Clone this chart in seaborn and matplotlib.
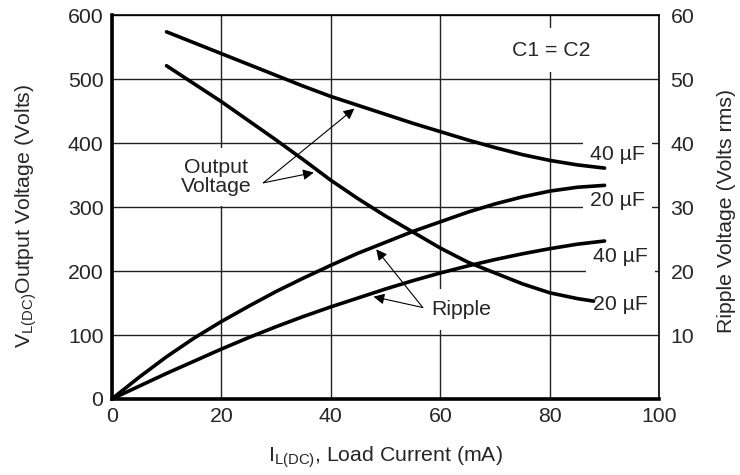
import pandas as pd
import matplotlib
matplotlib.use("Agg")
import matplotlib.pyplot as plt
import seaborn as sns

# Data (x = load current mA, y = volts on left scale)
x_out40 = [10, 15, 20, 25, 30, 35, 40, 45, 50, 55, 60, 65, 70, 75, 80, 85, 90]
out_40uF = [574, 557, 540, 523, 506, 489, 473, 459, 445, 431, 418, 405, 393, 382, 373, 366, 361]

x_out20 = [10, 15, 20, 25, 30, 35, 40, 45, 50, 55, 60, 65, 70, 75, 80, 85, 88]
out_20uF = [521, 493, 465, 435, 405, 374, 342, 313, 286, 261, 236, 214, 197, 180, 166, 157, 153]

x_rip = [0, 5, 10, 15, 20, 25, 30, 35, 40, 45, 50, 55, 60, 65, 70, 75, 80, 85, 90]
rip_20uF = [0, 34, 66, 95, 121, 145, 168, 189, 209, 228, 245, 262, 277, 292, 305, 316, 325, 331, 334]
rip_40uF = [0, 20, 40, 59, 78, 96, 113, 129, 144, 158, 172, 185, 197, 208, 218, 227, 235, 242, 247]

x_ticks = [0, 20, 40, 60, 80, 100]
left_ticks = [0, 100, 200, 300, 400, 500, 600]
right_ticks = [10, 20, 30, 40, 50, 60]

sns.set_style("white")
plt.rcParams['font.family'] = ['Liberation Sans', 'DejaVu Sans']
plt.rcParams['mathtext.fontset'] = 'custom'
plt.rcParams['mathtext.rm'] = 'Liberation Sans'
plt.rcParams['mathtext.it'] = 'Liberation Sans'

FS = 15.3

fig, ax = plt.subplots(figsize=(7.4, 4.75), dpi=100)
fig.subplots_adjust(left=0.151, right=0.891, top=0.968, bottom=0.16)

df = pd.concat([
    pd.DataFrame({'x': x_out40, 'y': out_40uF, 'c': 'out40'}),
    pd.DataFrame({'x': x_out20, 'y': out_20uF, 'c': 'out20'}),
    pd.DataFrame({'x': x_rip, 'y': rip_20uF, 'c': 'rip20'}),
    pd.DataFrame({'x': x_rip, 'y': rip_40uF, 'c': 'rip40'}),
])

sns.lineplot(data=df, x='x', y='y', units='c', estimator=None,
             color='black', lw=2.6, ax=ax, zorder=5, sort=False)

ax.set_xlim(0, 100)
ax.set_ylim(0, 600)
ax.set_xticks(x_ticks)
ax.set_yticks(left_ticks)
ax.grid(True, color='#222222', lw=1.0)
ax.set_axisbelow(True)
ax.tick_params(axis='x', length=0, labelsize=FS, pad=6)
ax.tick_params(axis='y', length=0, labelsize=FS, pad=6)

for s in ['left', 'bottom']:
    ax.spines[s].set_linewidth(2.6)
for s in ['top', 'right']:
    ax.spines[s].set_linewidth(1.2)
for s in ax.spines.values():
    s.set_color('black')

ax.set_xlabel(r'I$_{\mathregular{L(DC)}}$, Load Current (mA)', fontsize=FS)
ax.set_ylabel(r'V$_{\mathregular{L(DC)}}$Output Voltage (Volts)', fontsize=FS)
ax.xaxis.set_label_coords(0.5, -0.118)
ax.yaxis.set_label_coords(-0.132, 0.477)

ax2 = ax.twinx()
ax2.set_ylim(0, 60)
ax2.set_yticks(right_ticks)
ax2.tick_params(length=0, labelsize=FS, pad=8)
for s in ax2.spines.values():
    s.set_visible(False)
ax2.set_ylabel('Ripple Voltage (Volts rms)', fontsize=FS)
ax2.yaxis.set_label_coords(1.106, 0.49)

def box(p):
    return dict(facecolor='white', edgecolor='none', pad=p)

ax.text(80.2, 545, 'C1 = C2', fontsize=FS, ha='center', va='center', bbox=box(9), zorder=4)
ax.text(87.4, 383, '40 µF', fontsize=FS, ha='left', va='center', bbox=box(5), zorder=4)
ax.text(87.4, 310, '20 µF', fontsize=FS, ha='left', va='center', bbox=box(5), zorder=4)
ax.text(87.9, 223, '40 µF', fontsize=FS, ha='left', va='center', bbox=box(5), zorder=4)
ax.text(87.9, 148, '20 µF', fontsize=FS, ha='left', va='center', bbox=box(3), zorder=4)

ax.text(19, 347, 'Output\nVoltage', fontsize=FS, ha='center', va='center',
        linespacing=1.0, bbox=box(7), zorder=4)
ax.text(63.9, 140, 'Ripple', fontsize=FS, ha='center', va='center', bbox=box(8), zorder=4)

arrow = dict(arrowstyle='-|>', color='black', lw=0.8, mutation_scale=16,
             shrinkA=0, shrinkB=0)
ax.annotate('', xy=(44.3, 454), xytext=(27.7, 338), arrowprops=arrow, zorder=6)
ax.annotate('', xy=(36.9, 354), xytext=(27.7, 338), arrowprops=arrow, zorder=6)
ax.annotate('', xy=(48.3, 234), xytext=(56.8, 143), arrowprops=arrow, zorder=6)
ax.annotate('', xy=(47.8, 160), xytext=(56.8, 143), arrowprops=arrow, zorder=6)

fig.savefig('out.png', dpi=100)
